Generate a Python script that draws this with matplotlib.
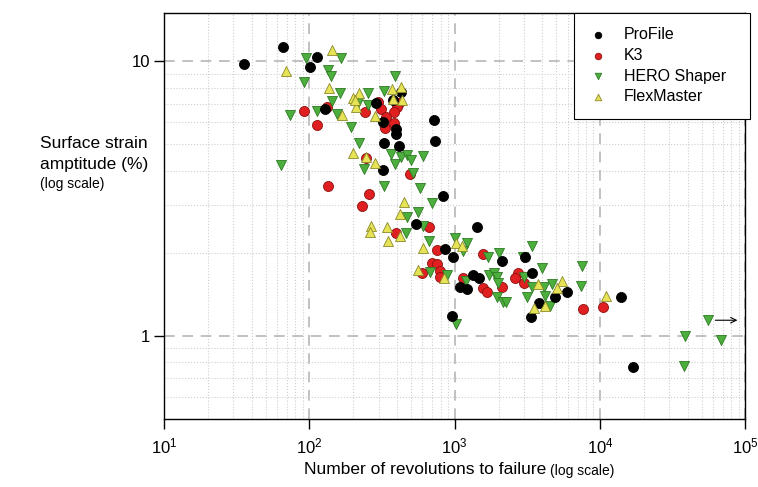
"""Strain-life scatter for four rotary NiTi instrument systems (log-log)."""

import matplotlib.pyplot as plt
import numpy as np
from matplotlib.ticker import LogLocator, FixedLocator, NullFormatter

plt.rcParams["font.family"] = ["Liberation Sans", "DejaVu Sans"]
plt.rcParams["mathtext.fontset"] = "custom"
plt.rcParams["mathtext.rm"] = "Liberation Sans"
plt.rcParams["mathtext.it"] = "Liberation Sans"
plt.rcParams["mathtext.bf"] = "Liberation Sans"

# ProFile
profile_n = [35.3, 65.5, 112, 100.5, 129, 425, 286, 374, 319, 393, 393, 716, 728,
             324, 412, 319, 826, 539, 853, 968, 1416, 1082, 1210, 1330, 1462,
             2100, 3030, 3390, 4880, 5900, 3790, 3330, 953, 13950, 16900]
profile_strain = [9.75, 11.3, 10.4, 9.5, 6.7, 7.72, 7.04, 7.21, 6.01, 5.66, 5.43,
                  6.11, 5.13, 5.03, 4.91, 4.02, 3.24, 2.56, 2.08, 1.94, 2.50, 1.51,
                  1.48, 1.66, 1.63, 1.88, 1.94, 1.69, 1.38, 1.44, 1.32, 1.17, 1.18,
                  1.38, 0.769]

# K3
k3_n = [91.4, 131.6, 112, 295, 310, 240, 412, 399, 380, 335, 330, 380, 134, 256,
        229, 244, 490, 662, 393, 751, 1560, 695, 751, 593, 789, 789, 1135, 1560,
        1660, 2100, 2715, 2590, 2990, 7640, 10490]
k3_strain = [6.58, 6.81, 5.86, 7.10, 6.70, 6.53, 7.04, 6.81, 6.53, 6.27, 5.71, 5.96,
             3.52, 3.29, 2.98, 4.45, 3.89, 2.50, 2.37, 2.06, 1.99, 1.85, 1.83, 1.70,
             1.73, 1.64, 1.63, 1.50, 1.44, 1.51, 1.70, 1.62, 1.56, 1.25, 1.27]

# HERO Shaper
hero_n = [94.3, 164, 134, 140, 91.4, 162, 142, 73.2, 112, 154, 192, 218, 386, 252,
          324, 215, 252, 363, 425, 467, 498, 602, 237, 386, 514, 63.5, 324, 574,
          695, 556, 467, 602, 460, 662, 1000, 1210, 1135, 1690, 2010, 2940, 3390,
          7480, 673, 881, 1190, 1710, 1850, 1950, 1980, 1950, 2140, 2240, 2990,
          3970, 3390, 4100, 4650, 3130, 4160, 4510, 1016, 7360, 55300, 38500,
          68100, 37900]
hero_strain = [10.3, 10.3, 9.27, 8.82, 8.40, 7.66, 7.16, 6.37, 6.58, 6.42, 5.75,
               5.03, 8.82, 7.66, 7.78, 7.04, 6.92, 4.60, 4.48, 4.56, 4.37, 4.52,
               4.06, 4.23, 3.92, 4.19, 3.52, 3.46, 3.05, 2.83, 2.72, 2.52, 2.37,
               2.22, 2.28, 2.17, 2.04, 1.94, 2.01, 1.93, 2.13, 1.80, 1.71, 1.67,
               1.58, 1.66, 1.70, 1.64, 1.56, 1.38, 1.33, 1.33, 1.64, 1.76, 1.51,
               1.51, 1.55, 1.39, 1.40, 1.28, 1.10, 1.52, 1.14, 1.00, 0.963, 0.775]

# FlexMaster
flex_n = [68.7, 142, 136, 199, 208, 167, 199, 218, 368, 425, 431, 374, 205, 281,
          244, 281, 446, 418, 340, 264, 260, 418, 346, 602, 1016, 1117, 556, 839,
          3720, 5450, 5040, 4160, 3500, 11000]
flex_strain = [9.20, 10.96, 7.98, 7.35, 6.81, 6.37, 4.63, 7.66, 7.90, 8.05, 7.21,
               7.28, 7.21, 6.31, 4.48, 4.27, 3.08, 2.78, 2.50, 2.52, 2.39, 2.32,
               2.22, 2.09, 2.18, 2.13, 1.74, 1.63, 1.55, 1.58, 1.50, 1.28, 1.26, 1.40]

# run-out specimen arrow (HERO Shaper, still intact)
arrow_start = (62000, 1.14)
arrow_end = (88000, 1.14)

x_ticks = [1e1, 1e2, 1e3, 1e4, 1e5]
x_tick_labels = [r"$10^1$", r"$10^2$", r"$10^3$", r"$10^4$", r"$10^5$"]
y_ticks = [1, 10]
y_tick_labels = ["1", "10"]

fig = plt.figure(figsize=(7.58, 4.87), dpi=100)
ax = fig.add_axes([164 / 758, 1 - 418.5 / 487, 581.5 / 758, 405.5 / 487])

ax.set_xscale("log")
ax.set_yscale("log")
ax.set_xlim(10, 1e5)
ax.set_ylim(0.5, 15)

marker_size = 52
ax.scatter(k3_n, k3_strain, s=marker_size, marker="o", c="#e02020",
           edgecolors="#8a1010", linewidths=0.6, label="K3", zorder=3)
ax.scatter(hero_n, hero_strain, s=marker_size, marker="v", c="#4cae3c",
           edgecolors="#2e7a24", linewidths=0.6, label="HERO Shaper", zorder=3)
ax.scatter(profile_n, profile_strain, s=marker_size, marker="o", c="black",
           edgecolors="black", linewidths=0.6, label="ProFile", zorder=4)
ax.scatter(flex_n, flex_strain, s=marker_size, marker="^", c="#e6e356",
           edgecolors="#8c8a2a", linewidths=0.6, label="FlexMaster", zorder=4)

ax.annotate("", xy=arrow_end, xytext=arrow_start,
            arrowprops=dict(arrowstyle="->", color="black", lw=0.8,
                            shrinkA=0, shrinkB=0), zorder=5)

# ticks: decades only, labelled R-style
ax.xaxis.set_major_locator(FixedLocator(x_ticks))
ax.set_xticklabels(x_tick_labels)
ax.yaxis.set_major_locator(FixedLocator(y_ticks))
ax.set_yticklabels(y_tick_labels)
ax.xaxis.set_minor_locator(LogLocator(base=10, subs=np.arange(2, 10)))
ax.yaxis.set_minor_locator(LogLocator(base=10, subs=np.arange(2, 10)))
ax.xaxis.set_minor_formatter(NullFormatter())
ax.yaxis.set_minor_formatter(NullFormatter())
ax.tick_params(which="major", direction="out", length=7, width=1, labelsize=12)
ax.tick_params(axis="x", which="major", pad=6)
ax.tick_params(axis="y", which="major", pad=3)
ax.tick_params(which="minor", length=0)

ax.grid(which="major", color="#b0b0b0", linestyle=(0, (7, 5)), linewidth=1.1)
ax.grid(which="minor", color="#cfcfcf", linestyle=":", linewidth=0.8)
ax.set_axisbelow(True)
for spine in ax.spines.values():
    spine.set_linewidth(1.0)

fig.text(40 / 758, 1 - 143 / 487, "Surface strain", fontsize=12.5, va="center")
fig.text(40 / 758, 1 - 164 / 487, "amptitude (%)", fontsize=12.5, va="center")
fig.text(40 / 758, 1 - 184 / 487, "(log scale)", fontsize=10, va="center")

fig.text(546 / 758, 1 - 470 / 487, "Number of revolutions to failure",
         fontsize=12.5, ha="right", va="center")
fig.text(550 / 758, 1 - 471 / 487, "(log scale)", fontsize=10, ha="left",
         va="center")

handles, labels = ax.get_legend_handles_labels()
order = [labels.index(name) for name in ["ProFile", "K3", "HERO Shaper", "FlexMaster"]]
leg = ax.legend([handles[i] for i in order], [labels[i] for i in order],
                loc="upper left", mode="expand",
                bbox_to_anchor=(574 / 758, 1 - 110 / 487, 176 / 758, 97 / 487),
                bbox_transform=fig.transFigure, fontsize=11.5, markerscale=0.65,
                handlelength=1.2, handletextpad=1.0, borderpad=0.9,
                labelspacing=0.35, fancybox=False, framealpha=1,
                edgecolor="black", borderaxespad=0)
leg.get_frame().set_linewidth(0.8)
leg._legend_box.align = "left"

fig.savefig("out.png", dpi=100)
